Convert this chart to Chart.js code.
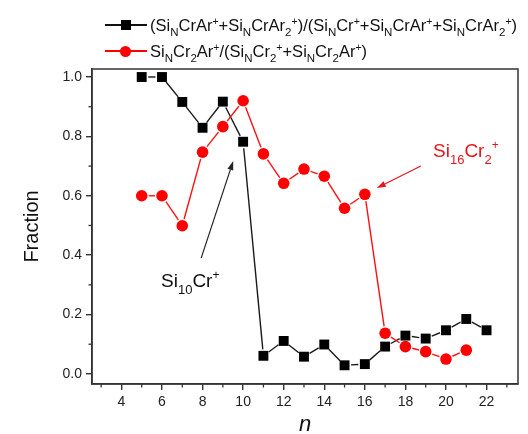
<!DOCTYPE html>
<html>
<head>
<meta charset="utf-8">
<script src="https://cdn.jsdelivr.net/npm/chart.js@4/dist/chart.umd.min.js"></script>
<style>
  html, body { margin:0; padding:0; background:#fff; }
  #wrap { position:relative; width:528px; height:434px; font-family:"Liberation Sans", Arial, sans-serif; }
  canvas { position:absolute; left:0; top:0; }
  .lg { position:absolute; left:105px; font-size:16.5px; line-height:20px; color:#111; white-space:nowrap; }
  .lg .sym { display:inline-block; position:relative; width:42px; height:20px; vertical-align:top; margin-right:3px; }
  .lg .sym .ln { position:absolute; left:0; right:0; top:9px; height:1.5px; }
  .lg .sym .mk { position:absolute; }
  .s { position:relative; top:5px; font-size:11.5px; }
  .p { position:relative; top:-6px; font-size:10.5px; }
  .ann { position:absolute; font-size:19px; line-height:22px; white-space:nowrap; }
  .ann .s { top:7px; font-size:13px; }
  .ann .p { top:-8px; font-size:12px; }
</style>
</head>
<body>
<div id="wrap">
  <canvas id="c" width="528" height="434"></canvas>
  <div class="lg" style="top:15px">
    <span class="sym"><span class="ln" style="background:#111"></span><span class="mk" style="left:16px;top:5px;width:9.5px;height:9.5px;background:#000"></span></span>(Si<span class="s">N</span>CrAr<span class="p">+</span>+Si<span class="s">N</span>CrAr<span class="s">2</span><span class="p">+</span>)/(Si<span class="s">N</span>Cr<span class="p">+</span>+Si<span class="s">N</span>CrAr<span class="p">+</span>+Si<span class="s">N</span>CrAr<span class="s">2</span><span class="p">+</span>)
  </div>
  <div class="lg" style="top:41px">
    <span class="sym"><span class="ln" style="background:#f00"></span><span class="mk" style="left:15px;top:4.5px;width:11px;height:11px;border-radius:50%;background:#f00"></span></span>Si<span class="s">N</span>Cr<span class="s">2</span>Ar<span class="p">+</span>/(Si<span class="s">N</span>Cr<span class="s">2</span><span class="p">+</span>+Si<span class="s">N</span>Cr<span class="s">2</span>Ar<span class="p">+</span>)
  </div>
  <div class="ann" style="left:161px;top:270px;color:#111">Si<span class="s">10</span>Cr<span class="p">+</span></div>
  <div class="ann" style="left:433px;top:140px;color:#e8141c">Si<span class="s">16</span>Cr<span class="s">2</span><span class="p">+</span></div>
</div>
<script>
// ---- data ----
const nValues = [5,6,7,8,9,10,11,12,13,14,15,16,17,18,19,20,21,22];
const crArFraction = [1.0,1.0,0.916,0.829,0.917,0.782,0.061,0.111,0.058,0.099,0.029,0.033,0.092,0.129,0.119,0.147,0.185,0.147];
const nValuesCr2 = [5,6,7,8,9,10,11,12,13,14,15,16,17,18,19,20,21];
const cr2ArFraction = [0.60,0.60,0.499,0.747,0.833,0.92,0.741,0.642,0.69,0.666,0.558,0.605,0.137,0.092,0.075,0.05,0.08];
const xMajorTicks = [4,6,8,10,12,14,16,18,20,22];
const xMinorTicks = [3,5,7,9,11,13,15,17,19,21,23];
const yMajorTicks = [0.0,0.2,0.4,0.6,0.8,1.0];
const yMinorTicks = [0.1,0.3,0.5,0.7,0.9];
// annotation arrows in data coordinates: [fromX, fromY, toX, toY]
const arrowSi10Cr = [7.93, 0.39, 9.51, 0.717];
const arrowSi16Cr2 = [18.76, 0.70, 16.59, 0.626];

const axisColor = '#333';

const gapLines = {
  id: 'gapLines',
  beforeDatasetsDraw(chart) {
    const ctx = chart.ctx;
    chart.data.datasets.forEach((ds, i) => {
      const pts = chart.getDatasetMeta(i).data;
      ctx.save();
      ctx.strokeStyle = ds.lineColor;
      ctx.lineWidth = 1.4;
      for (let k = 0; k < pts.length - 1; k++) {
        const a = pts[k], b = pts[k + 1];
        const dx = b.x - a.x, dy = b.y - a.y, L = Math.hypot(dx, dy);
        const g = ds.gap;
        if (L <= 2 * g) continue;
        const ux = dx / L, uy = dy / L;
        ctx.beginPath();
        ctx.moveTo(a.x + ux * g, a.y + uy * g);
        ctx.lineTo(b.x - ux * g, b.y - uy * g);
        ctx.stroke();
      }
      ctx.restore();
    });
  }
};

function drawArrow(ctx, x1, y1, x2, y2, color) {
  ctx.save();
  ctx.strokeStyle = color; ctx.fillStyle = color; ctx.lineWidth = 1.2;
  const ang = Math.atan2(y2 - y1, x2 - x1);
  const hl = 9, hw = 3;
  const bx = x2 - hl * Math.cos(ang), by = y2 - hl * Math.sin(ang);
  ctx.beginPath(); ctx.moveTo(x1, y1); ctx.lineTo(bx, by); ctx.stroke();
  ctx.beginPath();
  ctx.moveTo(x2, y2);
  ctx.lineTo(bx + hw * Math.sin(ang), by - hw * Math.cos(ang));
  ctx.lineTo(bx - hw * Math.sin(ang), by + hw * Math.cos(ang));
  ctx.closePath(); ctx.fill();
  ctx.restore();
}

const frameAndExtras = {
  id: 'frameAndExtras',
  afterDraw(chart) {
    const ctx = chart.ctx, a = chart.chartArea;
    const xs = chart.scales.x, ys = chart.scales.y;
    ctx.save();
    ctx.strokeStyle = axisColor; ctx.lineWidth = 1.5;
    ctx.strokeRect(a.left, a.top, a.right - a.left, a.bottom - a.top);
    ctx.lineWidth = 1.3;
    xMinorTicks.forEach(v => {
      const px = xs.getPixelForValue(v);
      ctx.beginPath(); ctx.moveTo(px, a.bottom); ctx.lineTo(px, a.bottom + 3.5); ctx.stroke();
    });
    yMinorTicks.forEach(v => {
      const py = ys.getPixelForValue(v);
      ctx.beginPath(); ctx.moveTo(a.left, py); ctx.lineTo(a.left - 3.5, py); ctx.stroke();
    });
    ctx.restore();
    const A = arrowSi10Cr, B = arrowSi16Cr2;
    drawArrow(ctx, xs.getPixelForValue(A[0]), ys.getPixelForValue(A[1]), xs.getPixelForValue(A[2]), ys.getPixelForValue(A[3]), '#222');
    drawArrow(ctx, xs.getPixelForValue(B[0]), ys.getPixelForValue(B[1]), xs.getPixelForValue(B[2]), ys.getPixelForValue(B[3]), '#e8141c');
  }
};

new Chart(document.getElementById('c'), {
  type: 'line',
  data: {
    datasets: [
      {
        data: nValues.map((n, i) => ({ x: n, y: crArFraction[i] })),
        showLine: false,
        pointStyle: 'rect',
        pointRadius: 7,
        pointBackgroundColor: '#000',
        pointBorderColor: '#000',
        pointBorderWidth: 0,
        lineColor: '#1a1a1a',
        gap: 6.5
      },
      {
        data: nValuesCr2.map((n, i) => ({ x: n, y: cr2ArFraction[i] })),
        showLine: false,
        pointStyle: 'circle',
        pointRadius: 5.8,
        pointBackgroundColor: '#ff0000',
        pointBorderColor: '#ff0000',
        pointBorderWidth: 0,
        lineColor: '#ff1010',
        gap: 7
      }
    ]
  },
  options: {
    responsive: false,
    animation: false,
    events: [],
    layout: { padding: { top: 69, right: 10, left: 0, bottom: 0 } },
    plugins: { legend: { display: false }, tooltip: { enabled: false } },
    scales: {
      x: {
        type: 'linear',
        min: 2.55, max: 23.55,
        afterFit: s => { s.height = 50; },
        afterBuildTicks: s => { s.ticks = xMajorTicks.map(v => ({ value: v })); },
        ticks: { color: '#222', font: { family: 'Liberation Sans', size: 14 }, padding: 4, maxRotation: 0, autoSkip: false, callback: v => String(v) },
        grid: { display: true, drawOnChartArea: false, drawTicks: true, tickLength: 6, color: axisColor, lineWidth: 1.4 },
        border: { display: true, color: axisColor, width: 1.5 },
        title: { display: true, text: 'n', color: '#111', font: { family: 'Liberation Sans', size: 22, style: 'italic', lineHeight: 1 }, padding: { top: 0, bottom: -2 } }
      },
      y: {
        min: -0.034, max: 1.027,
        afterFit: s => { s.width = 92; },
        afterBuildTicks: s => { s.ticks = yMajorTicks.map(v => ({ value: v })); },
        ticks: { color: '#222', font: { family: 'Liberation Sans', size: 14 }, padding: 4, callback: v => v.toFixed(1) },
        grid: { display: true, drawOnChartArea: false, drawTicks: true, tickLength: 6, color: axisColor, lineWidth: 1.4 },
        border: { display: true, color: axisColor, width: 1.5 },
        title: { display: true, text: 'Fraction', color: '#111', font: { family: 'Liberation Sans', size: 20, lineHeight: 1.2 }, padding: { top: 20, bottom: 0 } }
      }
    }
  },
  plugins: [gapLines, frameAndExtras]
});
</script>
</body>
</html>
